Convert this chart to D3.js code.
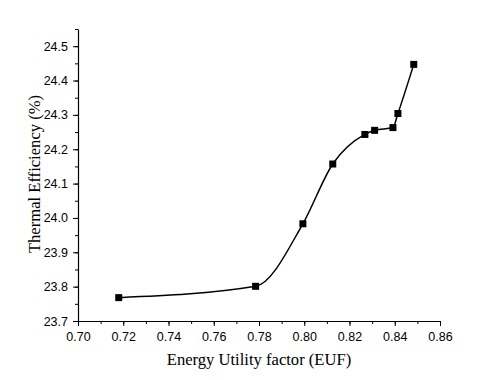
<!DOCTYPE html>
<html>
<head>
<meta charset="utf-8">
<script src="https://cdn.jsdelivr.net/npm/d3@7"></script>
<style>
  body { margin: 0; background: #fff; }
  .tick text { font-family: "Liberation Sans", Arial, sans-serif; font-size: 12.5px; fill: #000; }
  .title { font-family: "Liberation Serif", "Times New Roman", serif; font-size: 16.6px; fill: #000; }
</style>
</head>
<body>
<script>
// data
var euf = [0.718, 0.7785, 0.7994, 0.8126, 0.8268, 0.8311, 0.8392, 0.8414, 0.8484];
var efficiency = [23.768, 23.801, 23.983, 24.157, 24.243, 24.255, 24.263, 24.304, 24.447];
var xTicks = [0.70, 0.72, 0.74, 0.76, 0.78, 0.80, 0.82, 0.84, 0.86];
var yTicks = [23.7, 23.8, 23.9, 24.0, 24.1, 24.2, 24.3, 24.4, 24.5];

var data = euf.map(function(d, i) { return {x: d, y: efficiency[i]}; });

var width = 480, height = 380;
var margin = {top: 29, right: 40, bottom: 59, left: 78};
var w = width - margin.left - margin.right;   // 362
var h = height - margin.top - margin.bottom;  // 292

var svg = d3.select("body").append("svg")
	.attr("width", width)
	.attr("height", height);

var g = svg.append("g")
	.attr("transform", "translate(" + margin.left + "," + margin.top + ")");

var x = d3.scaleLinear().domain([0.70, 0.86]).range([0, w]);
var y = d3.scaleLinear().domain([23.7, 24.55]).range([h, 0]);

// minor ticks first
var xMinor = d3.range(0, 17).map(function(i) { return 0.70 + i * 0.01; });
var yMinor = d3.range(0, 18).map(function(i) { return 23.7 + i * 0.05; });

g.append("g")
	.attr("transform", "translate(0," + h + ")")
	.call(d3.axisBottom(x).tickValues(xMinor).tickSize(3).tickFormat(""))
	.call(function(s) { s.select(".domain").remove(); });
g.append("g")
	.call(d3.axisLeft(y).tickValues(yMinor).tickSize(3).tickFormat(""))
	.call(function(s) { s.select(".domain").remove(); });

// major axes
g.append("g")
	.attr("transform", "translate(0," + h + ")")
	.call(d3.axisBottom(x).tickValues(xTicks).tickSize(5).tickSizeOuter(0).tickPadding(6).tickFormat(d3.format(".2f")));
g.append("g")
	.call(d3.axisLeft(y).tickValues(yTicks).tickSize(5).tickSizeOuter(0).tickPadding(5).tickFormat(d3.format(".1f")));

g.selectAll(".domain").attr("stroke-width", 1.2);
g.selectAll(".tick line").attr("stroke-width", 1);

// curve
var line = d3.line()
	.x(function(d) { return x(d.x); })
	.y(function(d) { return y(d.y); })
	.curve(d3.curveMonotoneX);

g.append("path")
	.datum(data)
	.attr("fill", "none")
	.attr("stroke", "#000")
	.attr("stroke-width", 1.5)
	.attr("d", line);

// square markers
var s = 7;
g.selectAll(".pt")
	.data(data)
	.enter()
	.append("rect")
		.attr("class", "pt")
		.attr("x", function(d) { return x(d.x) - s / 2; })
		.attr("y", function(d) { return y(d.y) - s / 2; })
		.attr("width", s)
		.attr("height", s)
		.attr("fill", "#000");

// axis titles
svg.append("text")
	.attr("class", "title")
	.attr("x", margin.left + w / 2)
	.attr("y", 365)
	.attr("text-anchor", "middle")
	.text("Energy Utility factor (EUF)");

svg.append("text")
	.attr("class", "title")
	.attr("transform", "translate(40," + (margin.top + 145) + ") rotate(-90)")
	.attr("text-anchor", "middle")
	.text("Thermal Efficiency (%)");
</script>
</body>
</html>
